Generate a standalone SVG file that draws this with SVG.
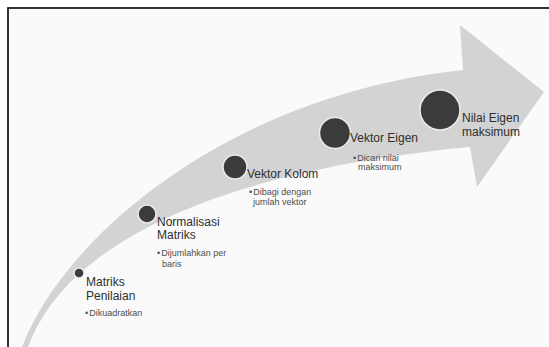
<svg xmlns="http://www.w3.org/2000/svg" width="549" height="347" viewBox="0 0 549 347">
  <style>
    .lbl { font-family: "Liberation Sans", Arial, sans-serif; font-size: 12px; fill: #2e2e2e; }
    .sub { font-family: "Liberation Sans", Arial, sans-serif; font-size: 9px; fill: #4d4d4d; }
    .dot { fill: #3b3b3b; stroke: #ececec; stroke-width: 1.5; }
  </style>
  <rect x="0" y="0" width="549" height="347" fill="#ffffff"/>
  <rect x="8" y="8" width="560" height="360" fill="#fafafa" stroke="#1e1e1e" stroke-width="1.8"/>
  <g id="connectors">
    <path id="arrow" fill="#d3d3d3" d="M 28 347 C 60 260, 180 175, 470 147 L 477 187 L 544 92 L 460 25 L 463 70 C 230 95, 65 235, 22 347 Z"/>
  </g>
  <g id="node-matriks-penilaian">
    <circle class="dot" cx="79" cy="273" r="5"/>
    <text class="lbl" x="86" y="286">Matriks</text>
    <text class="lbl" x="86" y="300">Penilaian</text>
    <text class="sub" x="85" y="316">•<tspan dx="1">Dikuadratkan</tspan></text>
  </g>
  <g id="node-normalisasi">
    <circle class="dot" cx="147" cy="214" r="9"/>
    <text class="lbl" x="157" y="226">Normalisasi</text>
    <text class="lbl" x="157" y="239">Matriks</text>
    <text class="sub" x="157" y="256">•<tspan dx="1">Dijumlahkan per</tspan></text>
    <text class="sub" x="162" y="267">baris</text>
  </g>
  <g id="node-vektor-kolom">
    <circle class="dot" cx="235" cy="167" r="12"/>
    <text class="lbl" x="247" y="178">Vektor Kolom</text>
    <text class="sub" x="249" y="195">•<tspan dx="1">Dibagi dengan</tspan></text>
    <text class="sub" x="253" y="205">jumlah vektor</text>
  </g>
  <g id="node-vektor-eigen">
    <circle class="dot" cx="335" cy="133" r="15.5"/>
    <text class="lbl" x="350" y="142">Vektor Eigen</text>
    <text class="sub" x="353" y="161">•<tspan dx="1">Dicari nilai</tspan></text>
    <text class="sub" x="358" y="170">maksimum</text>
  </g>
  <g id="node-nilai-eigen">
    <circle class="dot" cx="440" cy="110" r="20"/>
    <text class="lbl" x="462" y="122">Nilai Eigen</text>
    <text class="lbl" x="462" y="136">maksimum</text>
  </g>
</svg>
